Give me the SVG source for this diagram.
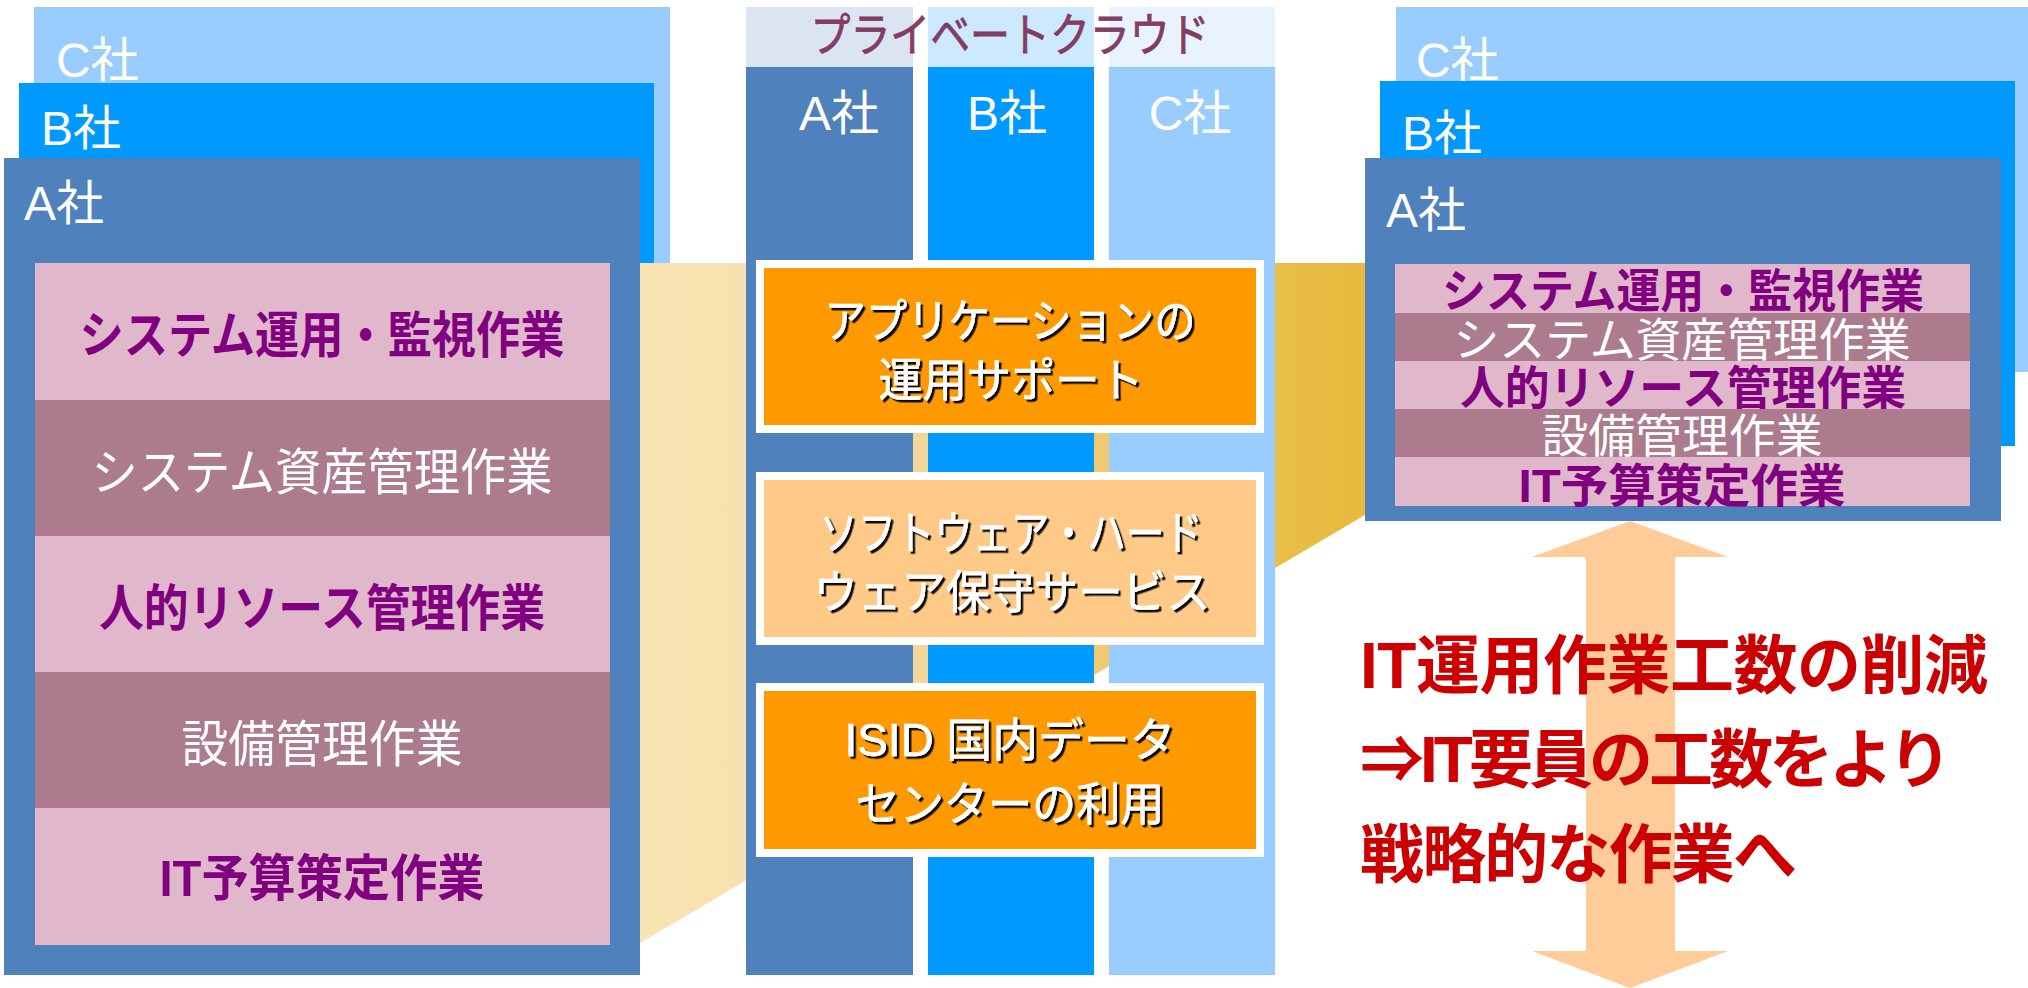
<svg xmlns="http://www.w3.org/2000/svg" width="2028" height="988" viewBox="0 0 2028 988">
<defs>
<linearGradient id="gold" gradientUnits="userSpaceOnUse" x1="640" y1="0" x2="1365" y2="0">
<stop offset="0" stop-color="#F8E3B2"/>
<stop offset="0.15" stop-color="#F7E1AF"/>
<stop offset="0.38" stop-color="#F3D89A"/>
<stop offset="0.63" stop-color="#EFCA74"/>
<stop offset="0.875" stop-color="#E9BE48"/>
<stop offset="1" stop-color="#E8BA3E"/>
</linearGradient>
<filter id="sh" x="-5%" y="-10%" width="110%" height="130%">
<feDropShadow dx="2.5" dy="2.5" stdDeviation="0.4" flood-color="#000" flood-opacity="0.95"/>
</filter>
</defs>
<style>
text{font-family:"Liberation Sans","Noto Sans CJK JP",sans-serif;}
.lbl{font-size:48px;fill:#FFFFFF;}
.cA{fill:#4F81BD;}
.cB{fill:#0099FF;}
.cC{fill:#99CCFF;}
.pk1{fill:#E1B8CB;}
.pk2{fill:#AC7B8E;}
.tb{font-weight:bold;fill:#800080;text-anchor:middle;}
.tw{fill:#FFFFFF;text-anchor:middle;}
.big{font-size:50px;}
.sm{font-size:46px;}
.svc{stroke:#FFFFFF;stroke-width:8;}
.svt{font-size:46px;fill:#FFFFFF;text-anchor:middle;filter:url(#sh);stroke:#FFFFFF;stroke-width:0.6;}
.red{font-size:64px;font-weight:bold;fill:#CC0000;}
</style>

<!-- left panel: companies -->
<g id="left-C">
<rect class="cC" x="34" y="7" width="636" height="256"/>
<text class="lbl" x="56" y="77">C社</text>
</g>
<g id="left-B">
<rect class="cB" x="19" y="83" width="635" height="180"/>
<text class="lbl" x="41" y="145">B社</text>
</g>
<g id="left-A">
<rect class="cA" x="4" y="158" width="636" height="817"/>
<text class="lbl" x="24" y="220">A社</text>
</g>
<g id="left-tasks">
<rect class="pk1" x="35" y="263" width="575" height="137"/>
<text class="tb big" x="322" y="353" textLength="485" lengthAdjust="spacingAndGlyphs">システム運用・監視作業</text>
<rect class="pk2" x="35" y="400" width="575" height="136"/>
<text class="tw big" x="322" y="490" textLength="461" lengthAdjust="spacingAndGlyphs">システム資産管理作業</text>
<rect class="pk1" x="35" y="536" width="575" height="136"/>
<text class="tb big" x="322" y="626" textLength="446" lengthAdjust="spacingAndGlyphs">人的リソース管理作業</text>
<rect class="pk2" x="35" y="672" width="575" height="136"/>
<text class="tw big" x="322" y="762" textLength="281" lengthAdjust="spacingAndGlyphs">設備管理作業</text>
<rect class="pk1" x="35" y="808" width="575" height="137"/>
<text class="tb big" x="322" y="896" textLength="325" lengthAdjust="spacingAndGlyphs">IT予算策定作業</text>
</g>

<!-- connecting band -->
<g id="band">
<polygon points="640,263 1365,263 1365,515 640,943" fill="url(#gold)"/>
</g>

<!-- private cloud -->
<g id="cloud">
<rect x="746" y="7" width="167" height="60" fill="#DBE5F1"/>
<rect x="928" y="7" width="166" height="60" fill="#CCE9FF"/>
<rect x="1109" y="7" width="166" height="60" fill="#E8F3FF"/>
<text x="1010" y="51" font-size="46" fill="#843C64" stroke="#843C64" stroke-width="0.8" text-anchor="middle" textLength="399" lengthAdjust="spacingAndGlyphs">プライベートクラウド</text>
<rect class="cA" x="746" y="67" width="167" height="908"/>
<rect class="cB" x="928" y="67" width="166" height="908"/>
<rect class="cC" x="1109" y="67" width="166" height="908"/>
<text class="lbl" x="839" y="130" text-anchor="middle">A社</text>
<text class="lbl" x="1007" y="130" text-anchor="middle">B社</text>
<text class="lbl" x="1190" y="130" text-anchor="middle">C社</text>
</g>
<g id="svc-app">
<rect class="svc" x="760" y="264" width="500" height="165" fill="#FF9900"/>
<text class="svt" x="1010" y="337" textLength="371" lengthAdjust="spacingAndGlyphs">アプリケーションの</text>
<text class="svt" x="1011" y="396" textLength="265" lengthAdjust="spacingAndGlyphs">運用サポート</text>
</g>
<g id="svc-maint">
<rect class="svc" x="760" y="476" width="500" height="165" fill="#FFC988"/>
<text class="svt" x="1011" y="549" textLength="383" lengthAdjust="spacingAndGlyphs">ソフトウェア・ハード</text>
<text class="svt" x="1012" y="608" textLength="397" lengthAdjust="spacingAndGlyphs">ウェア保守サービス</text>
</g>
<g id="svc-dc">
<rect class="svc" x="760" y="687" width="500" height="166" fill="#FF9900"/>
<text class="svt" x="1010" y="756" textLength="331" lengthAdjust="spacingAndGlyphs">ISID 国内データ</text>
<text class="svt" x="1010" y="820" textLength="309" lengthAdjust="spacingAndGlyphs">センターの利用</text>
</g>

<!-- right panel -->
<g id="right-C">
<rect class="cC" x="1396" y="7" width="640" height="365"/>
<text class="lbl" x="1416" y="77">C社</text>
</g>
<g id="right-B">
<rect class="cB" x="1380" y="81" width="635" height="365"/>
<text class="lbl" x="1402" y="150">B社</text>
</g>
<g id="right-A">
<rect class="cA" x="1365" y="158" width="636" height="363"/>
<text class="lbl" x="1386" y="227">A社</text>
</g>
<g id="right-tasks">
<rect class="pk1" x="1395" y="264" width="575" height="49"/>
<text class="tb sm" x="1683" y="307" textLength="482" lengthAdjust="spacingAndGlyphs">システム運用・監視作業</text>
<rect class="pk2" x="1395" y="313" width="575" height="48"/>
<text class="tw sm" x="1682" y="356" textLength="457" lengthAdjust="spacingAndGlyphs">システム資産管理作業</text>
<rect class="pk1" x="1395" y="361" width="575" height="48"/>
<text class="tb sm" x="1683" y="404" textLength="446" lengthAdjust="spacingAndGlyphs">人的リソース管理作業</text>
<rect class="pk2" x="1395" y="409" width="575" height="48"/>
<text class="tw sm" x="1682" y="452" textLength="281" lengthAdjust="spacingAndGlyphs">設備管理作業</text>
<rect class="pk1" x="1395" y="457" width="575" height="49"/>
<text class="tb sm" x="1682" y="502" textLength="327" lengthAdjust="spacingAndGlyphs">IT予算策定作業</text>
</g>

<!-- arrow -->
<g id="connectors">
<polygon points="1630,521 1728,557 1675,557 1675,951 1728,951 1630,988 1532,951 1586,951 1586,557 1532,557" fill="#FFCC99"/>
</g>

<g id="result">
<text class="red" x="1360" y="688" textLength="628">IT運用作業工数の削減</text>
<text class="red" x="1360" y="782" textLength="592">⇒IT要員の工数をより</text>
<text class="red" x="1360" y="877" textLength="437">戦略的な作業へ</text>
</g>
</svg>
